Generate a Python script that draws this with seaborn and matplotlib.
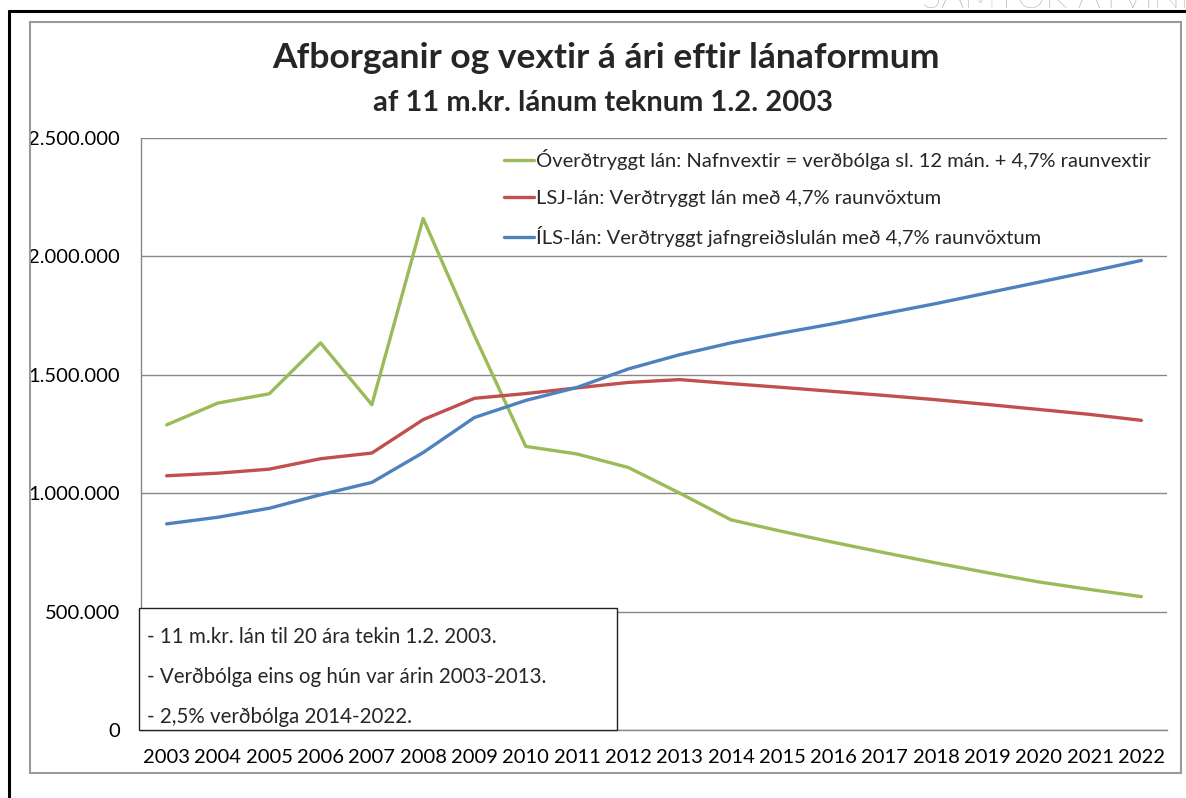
import matplotlib
matplotlib.use("Agg")
import matplotlib.pyplot as plt
from matplotlib.patches import Rectangle
from matplotlib.lines import Line2D
from matplotlib.ticker import FuncFormatter
import seaborn as sns
import pandas as pd

# Data (kr. per year)
years = list(range(2003, 2023))
overdtryggt = [1288000, 1380000, 1419000, 1634000, 1373000, 2159000, 1665000, 1197000,
               1165000, 1108000, 1000000, 887000, 838000, 792000, 748000, 705000,
               664000, 625000, 593000, 563000]
lsj = [1073000, 1084000, 1101000, 1145000, 1169000, 1310000, 1400000, 1420000,
       1444000, 1467000, 1479000, 1462000, 1446000, 1429000, 1412000, 1394000,
       1374000, 1353000, 1332000, 1307000]
ils = [870000, 898000, 936000, 993000, 1045000, 1171000, 1319000, 1391000,
       1446000, 1524000, 1584000, 1634000, 1676000, 1715000, 1758000, 1800000,
       1845000, 1890000, 1935000, 1982000]

series_labels = [
    "Óverðtryggt lán: Nafnvextir = verðbólga sl. 12 mán. + 4,7% raunvextir",
    "LSJ-lán: Verðtryggt lán með 4,7% raunvöxtum",
    "ÍLS-lán: Verðtryggt jafngreiðslulán með 4,7% raunvöxtum",
]
series_colors = ["#9BBB59", "#C0504D", "#4F81BD"]
notes = [
    "- 11 m.kr. lán til 20 ára tekin 1.2. 2003.",
    "- Verðbólga eins og hún var árin 2003-2013.",
    "- 2,5% verðbólga 2014-2022.",
]
title = "Afborganir og vextir á ári eftir lánaformum"
subtitle = "af 11 m.kr. lánum teknum 1.2. 2003"

df = pd.concat([
    pd.DataFrame({"year": years, "value": vals, "series": lab})
    for vals, lab in zip([overdtryggt, lsj, ils], series_labels)
])

sns.set_theme(style="white")
plt.rcParams["font.family"] = ["Lato", "DejaVu Sans"]

W, H = 1186, 798
fig = plt.figure(figsize=(W / 100, H / 100), dpi=100)
fig.patch.set_facecolor("white")


def fx(px):
    return px / W


def fy(py):
    return 1 - py / H


ax = fig.add_axes([fx(141), fy(730), fx(1167) - fx(141), fy(137.7) - fy(730)])

sns.lineplot(data=df, x="year", y="value", hue="series", hue_order=series_labels,
             palette=series_colors, linewidth=2.4, ax=ax, legend=False)

ax.set_xlim(2002.5, 2022.5)
ax.set_ylim(0, 2500000)
ax.set_xticks(years)
ax.set_xticklabels([str(y) for y in years])
ax.set_yticks(range(0, 2500001, 500000))
ax.yaxis.set_major_formatter(FuncFormatter(lambda v, p: "0" if v == 0 else f"{int(v):,}".replace(",", ".")))
ax.grid(axis="y", color="#878787", linewidth=1.0)
ax.set_axisbelow(True)
ax.set_xlabel("")
ax.set_ylabel("")
for side in ["top", "right"]:
    ax.spines[side].set_visible(False)
for side in ["left", "bottom"]:
    ax.spines[side].set_color("#878787")
    ax.spines[side].set_linewidth(1.0)
ax.tick_params(axis="both", length=0, labelsize=14.5, colors="black")
ax.tick_params(axis="y", pad=15)
ax.tick_params(axis="x", pad=14)

handles = [Line2D([], [], color=c, linewidth=2.4) for c in series_colors]
ax.legend(handles, series_labels, loc="upper right", bbox_to_anchor=(0.995, 1.0),
          frameon=False, fontsize=14.5, handlelength=1.5, handletextpad=0.1,
          labelspacing=0.98, borderaxespad=0.15)

# Titles
fig.text(fx(606), fy(58), title, ha="center", va="center", fontsize=25.5, fontweight="bold")
fig.text(fx(603), fy(103), subtitle, ha="center", va="center", fontsize=21, fontweight="bold")

# Note box
fig.add_artist(Rectangle((fx(139), fy(730)), fx(617) - fx(139), fy(608) - fy(730),
                         transform=fig.transFigure, facecolor="white",
                         edgecolor="#222222", linewidth=1.0, zorder=5))
for i, line in enumerate(notes):
    fig.text(fx(147), fy(637 + 40 * i), line, ha="left", va="center",
             fontsize=14.8, zorder=6)

# Chart area border and outer frame
fig.add_artist(Rectangle((fx(30), fy(773)), fx(1181) - fx(30), fy(22) - fy(773),
                         transform=fig.transFigure, facecolor="none",
                         edgecolor="#9a9a9a", linewidth=1.5))
fig.add_artist(Line2D([fx(9), fx(9)], [fy(11), 0], transform=fig.transFigure,
                      color="black", linewidth=2.2))
fig.add_artist(Line2D([fx(9), 1], [fy(11), fy(11)], transform=fig.transFigure,
                      color="black", linewidth=2.2))

# logo text, cut off at the top edge as in the source image
fig.text(fx(922), fy(8), "SAMTÖK ATVINNULÍFSINS", ha="left", va="baseline",
         fontsize=26, color="#8a8a8a", fontweight="light")

fig.savefig("out.png", dpi=100, facecolor="white")
